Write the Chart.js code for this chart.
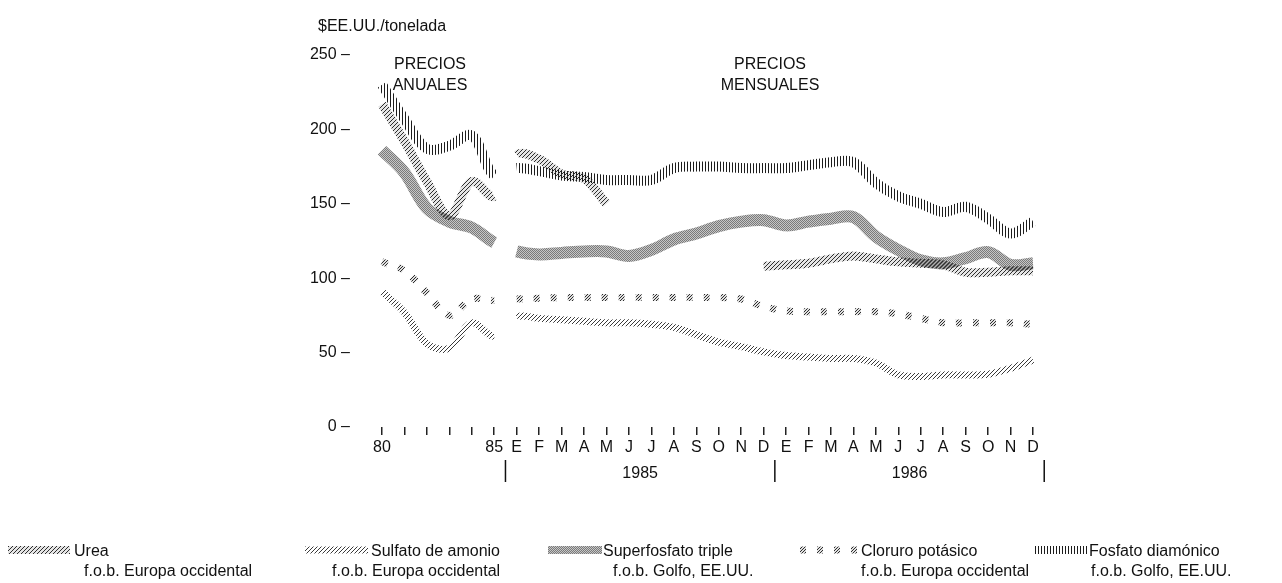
<!DOCTYPE html>
<html lang="es">
<head>
<meta charset="utf-8">
<title>Precios de fertilizantes</title>
<script src="https://cdn.jsdelivr.net/npm/chart.js@4.4.1/dist/chart.umd.min.js"></script>
<style>
  html, body { margin: 0; padding: 0; background: #fff; }
  #wrap { position: relative; width: 1282px; height: 583px; overflow: hidden;
          font-family: "Liberation Sans", Arial, sans-serif; color: #111; }
  #chart { position: absolute; left: 0; top: 0; }
  .txt { position: absolute; font-size: 16px; line-height: 21px; white-space: nowrap; }
  .center { text-align: center; transform: translateX(-50%); }
  .lg { position: absolute; font-size: 16px; line-height: 20px; white-space: nowrap; }
</style>
</head>
<body>
<div id="wrap">
  <canvas id="chart" width="1282" height="583"></canvas>
  <div class="txt" style="left:318px;top:15px;">$EE.UU./tonelada</div>
  <div class="txt center" style="left:430px;top:53px;">PRECIOS<br>ANUALES</div>
  <div class="txt center" style="left:770px;top:53px;">PRECIOS<br>MENSUALES</div>
  <div id="legend"></div>
</div>
<script>
// categories
const annualYears = ["80", "81", "82", "83", "84", "85"];
const months = ["E", "F", "M", "A", "M", "J", "J", "A", "S", "O", "N", "D"];
const years = ["1985", "1986"];
const yTicks = [0, 50, 100, 150, 200, 250];

const seriesNames = ["Urea", "Sulfato de amonio", "Superfosfato triple", "Cloruro potásico", "Fosfato diamónico"];
const seriesSources = ["f.o.b. Europa occidental", "f.o.b. Europa occidental", "f.o.b. Golfo, EE.UU.",
                       "f.o.b. Europa occidental", "f.o.b. Golfo, EE.UU."];

// $EE.UU./tonelada : 1980-85 annual, then 1985 and 1986 monthly
const urea = [217, 192, 165, 142, 165, 155,
              183, 180, 170, 167, 150, null, null, null, null, null, null, 108,
              109, 110, 113, 115, 113, 111, 110, 109, 104, 104, 105, 105];
const sulfato = [91, 77, 56, 53, 70, 61,
                 74, 73, 72, 71, 70, 70, 69, 67, 62, 57, 54, 50.5,
                 48, 47, 46, 46, 43, 35, 34, 35, 35, 35.5, 39.5, 45];
const superfosfato = [186, 171, 147, 138, 134, 124,
                      118, 116, 117, 118, 118, 115, 119, 126, 130, 135, 138, 139,
                      135.5, 138, 140, 141, 128, 119, 112, 110, 113.5, 117.5, 109, 110];
const cloruro = [111, 105, 90, 75, 86, 85,
                 86, 86.5, 87, 87, 87, 87, 87, 87, 87, 87, 86, 81,
                 78, 77.5, 77.5, 77.5, 77.5, 76, 73, 70, 70, 70, 70, 69];
const fosfato = [230, 207, 187, 189, 196, 169,
                 174, 172, 169, 168, 166, 166, 166, 174, 175, 175, 174, 174,
                 174, 176, 178, 178, 164, 155, 150, 144.5, 148, 140, 130, 138];

const seriesValues = [urea, sulfato, superfosfato, cloruro, fosfato];
const labels = annualYears.concat(months, months);
const nAnnual = annualYears.length;

const sansFont = '"Liberation Sans", Arial, sans-serif';

// line looks, one per series
const looks = [
  { pat: "urea", width: 9, dash: [] },
  { pat: "sulfato", width: 7, dash: [] },
  { pat: "super", width: 12, dash: [] },
  { pat: "cloruro", width: 7, dash: [6, 11] },
  { pat: "fosfato", width: 10, dash: [] }
];

// hatched fills for the thick bands
function makePattern(ctx, kind) {
  const c = document.createElement("canvas");
  const g = c.getContext("2d");
  if (kind === "urea") {
    c.width = 4; c.height = 4;
    g.fillStyle = "rgba(0,0,0,0.10)"; g.fillRect(0, 0, 4, 4);
    g.fillStyle = "#2e2e2e";
    for (let i = 0; i < 4; i++) g.fillRect(i, 3 - i, 1, 1);
  } else if (kind === "sulfato") {
    c.width = 4; c.height = 4;
    g.fillStyle = "#3a3a3a";
    for (let i = 0; i < 4; i++) g.fillRect(i, 3 - i, 1, 1);
  } else if (kind === "cloruro") {
    c.width = 3; c.height = 3;
    g.fillStyle = "rgba(0,0,0,0.12)"; g.fillRect(0, 0, 3, 3);
    g.fillStyle = "#2e2e2e";
    for (let i = 0; i < 3; i++) g.fillRect(i, 2 - i, 1, 1);
  } else if (kind === "fosfato") {
    c.width = 3; c.height = 1;
    g.fillStyle = "#1c1c1c"; g.fillRect(0, 0, 1, 1);
  } else {
    c.width = 2; c.height = 2;
    g.fillStyle = "#c6c6c6"; g.fillRect(0, 0, 2, 2);
    g.fillStyle = "#7a7a7a"; g.fillRect(0, 0, 1, 1); g.fillRect(1, 1, 1, 1);
  }
  return ctx.createPattern(c, "repeat");
}

const ctx = document.getElementById("chart").getContext("2d");

// no line between the annual part and the monthly part
function gapSegment(c) {
  return c.p0DataIndex === nAnnual - 1 ? "rgba(0,0,0,0)" : undefined;
}

const datasets = seriesValues.map((data, i) => ({
  label: seriesNames[i],
  data: data,
  borderColor: makePattern(ctx, looks[i].pat),
  borderWidth: looks[i].width,
  borderDash: looks[i].dash,
  borderCapStyle: "butt",
  borderJoinStyle: "round",
  pointRadius: 0,
  pointHoverRadius: 0,
  tension: 0.35,
  fill: false,
  segment: { borderColor: gapSegment }
}));

/* year captions and separators under the month letters */
const yearBands = {
  id: "yearBands",
  afterDraw(chart) {
    const xs = chart.scales.x;
    const c = chart.ctx;
    const edges = [0, 1, 2].map(k => xs.getPixelForValue(nAnnual - 0.5 + k * months.length));
    c.save();
    c.strokeStyle = "#111";
    c.lineWidth = 1.5;
    edges.forEach(x => {
      c.beginPath();
      c.moveTo(x, xs.top + 33);
      c.lineTo(x, xs.top + 55);
      c.stroke();
    });
    c.fillStyle = "#111";
    c.font = "16px " + sansFont;
    c.textAlign = "center";
    c.textBaseline = "middle";
    years.forEach((y, k) => c.fillText(y, (edges[k] + edges[k + 1]) / 2, xs.top + 47));
    c.restore();
  }
};

new Chart(ctx, {
  type: "line",
  data: { labels: labels, datasets: datasets },
  options: {
    responsive: false,
    animation: false,
    devicePixelRatio: 1,
    layout: { padding: { top: 55, right: 249, left: 0, bottom: 0 } },
    plugins: { legend: { display: false }, tooltip: { enabled: false } },
    scales: {
      x: {
        type: "category",
        offset: false,
        border: { display: false },
        grid: { drawOnChartArea: false, drawTicks: true, tickLength: 8, color: "#222", lineWidth: 1.5 },
        ticks: {
          autoSkip: false,
          maxRotation: 0,
          padding: 3,
          color: "#111",
          font: { family: sansFont, size: 16 },
          callback: (v, i) => (i === 0 || i >= nAnnual - 1) ? labels[i] : ""
        },
        afterFit: s => { s.height = 156; }
      },
      y: {
        min: 0,
        max: 250,
        afterBuildTicks: s => { s.ticks = yTicks.map(v => ({ value: v })); },
        border: { display: false },
        grid: { display: false },
        ticks: {
          padding: 24,
          color: "#111",
          font: { family: sansFont, size: 16 },
          callback: v => v + " \u2013"
        },
        afterFit: s => { s.width = 382; }
      }
    }
  },
  plugins: [yearBands]
});

/* LEGEND: swatch + two lines of text per series */
const legendLayout = [
  { sw: 8, w: 62, t: 74, t2: 84 },
  { sw: 305, w: 63, t: 371, t2: 332 },
  { sw: 548, w: 54, t: 603, t2: 613 },
  { sw: 800, w: 58, t: 861, t2: 861 },
  { sw: 1035, w: 52, t: 1089, t2: 1091 }
];
const legend = document.getElementById("legend");
seriesNames.forEach((name, i) => {
  const L = legendLayout[i];
  const cv = document.createElement("canvas");
  cv.width = L.w; cv.height = 14;
  cv.style.position = "absolute";
  cv.style.left = L.sw + "px";
  cv.style.top = "543px";
  const g = cv.getContext("2d");
  g.strokeStyle = makePattern(g, looks[i].pat);
  g.lineWidth = Math.min(looks[i].width, 8);
  g.setLineDash(looks[i].dash);
  g.beginPath();
  g.moveTo(0, 7);
  g.lineTo(L.w, 7);
  g.stroke();
  legend.appendChild(cv);

  const a = document.createElement("div");
  a.className = "lg";
  a.style.left = L.t + "px";
  a.style.top = "541px";
  a.textContent = name;
  legend.appendChild(a);

  const b = document.createElement("div");
  b.className = "lg";
  b.style.left = L.t2 + "px";
  b.style.top = "561px";
  b.textContent = seriesSources[i];
  legend.appendChild(b);
});
</script>
</body>
</html>
